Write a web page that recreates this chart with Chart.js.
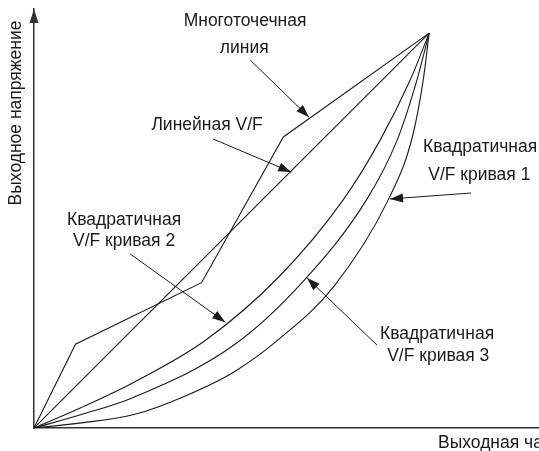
<!DOCTYPE html>
<html lang="ru">
  <head>
    <meta charset="UTF-8" />
    <title>V/F кривые</title>
    <style>
      body { margin: 0; background: #fff; }
    </style>
  </head>
  <body>
    <canvas id="vf" width="539" height="451"></canvas>
    <script src="https://cdn.jsdelivr.net/npm/chart.js"></script>
    <script>
      // frequency in % of rated, voltage in % of rated
      const multiX = [0, 10.5, 42.4, 63.1, 100];
      const multiY = [0, 21.2, 36.8, 73.7, 100];
      const linearX = [0, 100];
      const linearY = [0, 100];
      const curve1X = [0, 12, 25.3, 38, 50.6, 62, 76, 89.6, 95.7, 98.5, 100];
      const curve1Y = [0, 1.3, 3.4, 8.0, 14.2, 22.5, 36.0, 57.7, 73.5, 88.1, 100];
      const curve2X = [0, 12, 25.3, 43.5, 62, 78.2, 87.6, 95.2, 100];
      const curve2Y = [0, 5.2, 11.6, 22.3, 38.3, 57.7, 72.9, 88.1, 100];
      const curve3X = [0, 12, 25.3, 50.6, 68, 84.1, 91.9, 96.9, 100];
      const curve3Y = [0, 3.4, 7.8, 21.0, 37.0, 57.7, 72.9, 88.1, 100];

      const labels = [
        { text: "Многоточечная", x: 53.4, y: 103.0 },
        { text: "линия", x: 53.2, y: 96.2 },
        { text: "Линейная V/F", x: 43.8, y: 76.7 },
        { text: "Квадратичная", x: 112.9, y: 71.1 },
        { text: "V/F кривая 1", x: 112.7, y: 64.1 },
        { text: "Квадратичная", x: 22.8, y: 52.7 },
        { text: "V/F кривая 2", x: 22.8, y: 47.3 },
        { text: "Квадратичная", x: 102.0, y: 23.8 },
        { text: "V/F кривая 3", x: 102.3, y: 18.2 },
      ];
      const arrows = [
        [54.7, 93.2, 69.6, 78.7],
        [45.3, 73.2, 65.1, 64.8],
        [110.6, 59.5, 90.1, 58.0],
        [24.3, 44.1, 48.4, 26.8],
        [86.8, 21.0, 69.1, 38.0],
      ];

      const toPoints = (xs, ys) => xs.map((x, i) => ({ x: x, y: ys[i] }));

      const lineStyle = {
        showLine: true,
        borderColor: "#1a1a1a",
        borderWidth: 1.1,
        pointRadius: 0,
        fill: false,
      };

      const drawHead = (ctx, x1, y1, x2, y2) => {
        const a = Math.atan2(y2 - y1, x2 - x1);
        const len = 13;
        const half = 4.5;
        ctx.beginPath();
        ctx.moveTo(x2, y2);
        ctx.lineTo(x2 - len * Math.cos(a) + half * Math.sin(a), y2 - len * Math.sin(a) - half * Math.cos(a));
        ctx.lineTo(x2 - len * Math.cos(a) - half * Math.sin(a), y2 - len * Math.sin(a) + half * Math.cos(a));
        ctx.closePath();
        ctx.fill();
      };

      const annotations = {
        id: "annotations",
        afterDraw(chart) {
          const ctx = chart.ctx;
          const xs = chart.scales.x;
          const ys = chart.scales.y;
          const area = chart.chartArea;
          ctx.save();
          ctx.fillStyle = "#1a1a1a";
          ctx.strokeStyle = "#1a1a1a";
          ctx.lineWidth = 1;
          ctx.font = "17.5px 'Liberation Sans', Arial, sans-serif";
          ctx.textAlign = "center";
          ctx.textBaseline = "middle";
          labels.forEach((l) => {
            ctx.fillText(l.text, xs.getPixelForValue(l.x), ys.getPixelForValue(l.y));
          });
          arrows.forEach((a) => {
            const x1 = xs.getPixelForValue(a[0]);
            const y1 = ys.getPixelForValue(a[1]);
            const x2 = xs.getPixelForValue(a[2]);
            const y2 = ys.getPixelForValue(a[3]);
            ctx.beginPath();
            ctx.moveTo(x1, y1);
            ctx.lineTo(x2, y2);
            ctx.stroke();
            drawHead(ctx, x1, y1, x2, y2);
          });
          // y axis arrow
          ctx.fillStyle = "#333";
          ctx.beginPath();
          ctx.moveTo(area.left, area.top);
          ctx.lineTo(area.left - 4.5, area.top + 14);
          ctx.lineTo(area.left + 4.5, area.top + 14);
          ctx.closePath();
          ctx.fill();
          // axis titles
          ctx.fillStyle = "#1a1a1a";
          ctx.textAlign = "left";
          ctx.fillText("Выходная частота", 438, 443);
          ctx.translate(16, 113);
          ctx.rotate(-Math.PI / 2);
          ctx.textAlign = "center";
          ctx.fillText("Выходное напряжение", 0, 0);
          ctx.restore();
        },
      };

      new Chart(document.getElementById("vf"), {
        type: "scatter",
        data: {
          datasets: [
            { label: "Многоточечная линия", data: toPoints(multiX, multiY), ...lineStyle },
            { label: "Линейная V/F", data: toPoints(linearX, linearY), ...lineStyle },
            { label: "Квадратичная V/F кривая 1", data: toPoints(curve1X, curve1Y), cubicInterpolationMode: "monotone", ...lineStyle },
            { label: "Квадратичная V/F кривая 2", data: toPoints(curve2X, curve2Y), cubicInterpolationMode: "monotone", ...lineStyle },
            { label: "Квадратичная V/F кривая 3", data: toPoints(curve3X, curve3Y), cubicInterpolationMode: "monotone", ...lineStyle },
          ],
        },
        options: {
          responsive: false,
          animation: false,
          layout: { padding: { left: 34, right: 0, top: 9, bottom: 23 } },
          plugins: { legend: { display: false }, tooltip: { enabled: false } },
          scales: {
            x: {
              type: "linear",
              min: 0,
              max: 127.8,
              ticks: { display: false },
              grid: { display: false, drawTicks: false },
              border: { display: true, color: "#333", width: 1.5 },
            },
            y: {
              type: "linear",
              min: 0,
              max: 106.1,
              ticks: { display: false },
              grid: { display: false, drawTicks: false },
              border: { display: true, color: "#333", width: 1.5 },
            },
          },
        },
        plugins: [annotations],
      });
    </script>
  </body>
</html>
